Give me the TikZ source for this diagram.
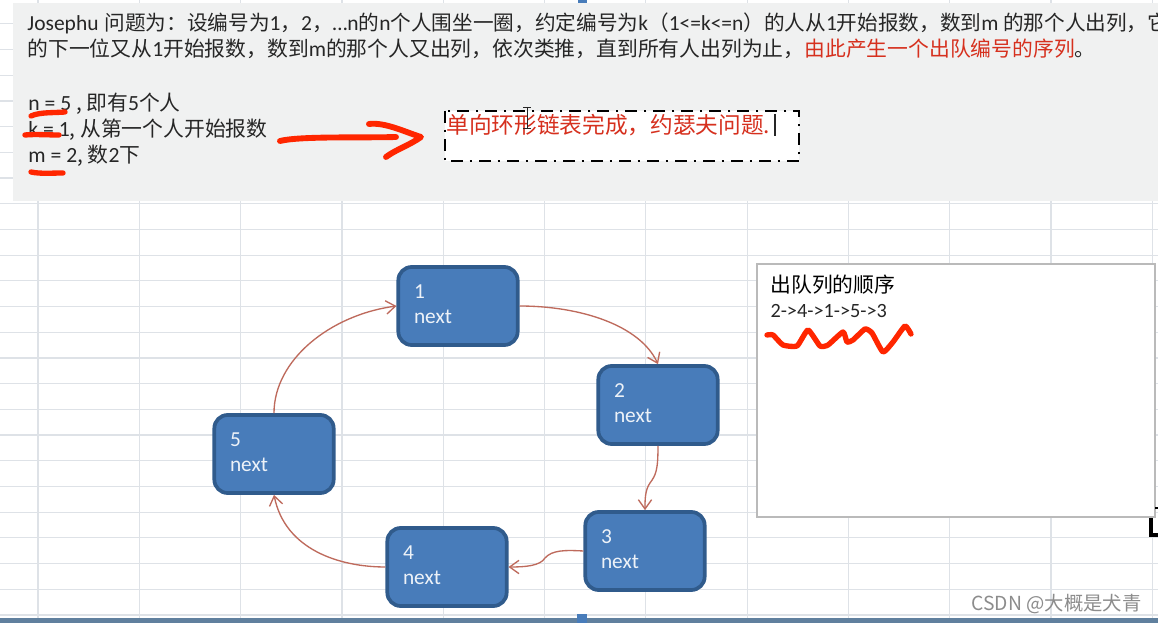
\documentclass[tikz,border=0pt]{standalone}
\usepackage{fontspec}
\setmainfont{Noto Sans CJK SC}
\newfontfamily\latfont[Scale=1.04]{Carlito}
\newcommand{\lat}[1]{{\latfont #1}}
\usetikzlibrary{arrows.meta}

\definecolor{gridcol}{RGB}{222,226,231}
\definecolor{panelcol}{RGB}{240,241,241}
\definecolor{boxfill}{RGB}{72,124,186}
\definecolor{boxedge}{RGB}{48,91,140}
\definecolor{barcol}{RGB}{96,128,158}
\definecolor{linkcol}{RGB}{190,106,92}
\definecolor{inkred}{RGB}{255,38,0}
\definecolor{textred}{RGB}{214,48,30}
\definecolor{textcol}{RGB}{38,38,38}

\tikzset{
	every picture/.style={line width=0.75pt},
	listbox/.style={draw=boxedge,fill=boxfill,line width=2.8pt,rounded corners=10pt,minimum width=89.5pt,minimum height=58.5pt,inner sep=0pt,text=white!90!boxfill,text width=66pt,align=left,font=\fontsize{15.4}{18.6}\latfont,execute at end node={\vspace{3pt}}},
	listlink/.style={draw=linkcol,line width=1pt,-{Straight Barb[length=7pt,width=10pt]}},
	inkstroke/.style={draw=inkred,line width=4pt,line cap=round,line join=round},
	toptext/.style={anchor=base west,inner sep=0pt,text=textcol,font=\fontsize{15.6}{18}\selectfont},
}

\begin{document}
\begin{tikzpicture}[x=0.75pt,y=0.75pt,yscale=-1,xscale=1]
	\useasboundingbox (0,0) rectangle (1158,623);
	\clip (0,0) rectangle (1158,623);

	%sheet grid
	\fill [white] (0,0) rectangle (1158,623);
	\foreach \gx in {0,...,11} {
		\draw [gridcol,line width=0.9pt] ({38+101.3*\gx},0) -- ({38+101.3*\gx},623);
	}
	\foreach \gy in {0,...,23} {
		\draw [gridcol,line width=0.9pt] (0,{615-25.7*\gy}) -- (1158,{615-25.7*\gy});
	}

	%grey panel
	\fill [panelcol] (13,3) rectangle (1158,201);
	\fill [boxfill] (578,0) rectangle (587,3);

	%bottom bar
	\fill [barcol] (0,618) rectangle (1158,623);
	\fill [boxfill] (577,614) rectangle (587,623);

	%problem text
	\node [toptext,font=\fontsize{15.48}{18}\selectfont] (line1) at (27,31) {\lat{Josephu}\hspace{1pt} 问题为：设编号为\lat{1}，\lat{2}，\lat{…n}的\lat{n}个人围坐一圈，约定编号为\lat{k}（\lat{1<=k<=n}）的人从\lat{1}开始报数，数到\lat{m} 的那个人出列，它};
	\node [toptext] (line2) at (27,57) {的下一位又从\lat{1}开始报数，数到\lat{m}的那个人又出列，依次类推，直到所有人出列为止，\textcolor{textred}{由此产生一个出队编号的序列}。};
	\node [toptext] (nline) at (28,111) {\lat{n = 5} , 即有\lat{5}个人};
	\node [toptext] (kline) at (28,137) {\lat{k = 1}, 从第一个人开始报数};
	\node [toptext] (mline) at (28,163) {\lat{m = 2}, 数\lat{2}下};

	%dashed answer box
	\draw [fill=white,line width=0.8pt,dash pattern=on 9pt off 5pt on 2pt off 5pt] (445,111) rectangle (799,161);
	\node [toptext,text=textred,font=\fontsize{17}{20}\selectfont] (answer) at (446,134) {单向环形链表完成，约瑟夫问题.};
	\draw [textcol,line width=0.8pt] (775,114) -- (775,136);
	\draw [textcol,line width=0.7pt] (527,107) -- (527,128) (523,107) -- (531,107) (523,128) -- (531,128);

	%red pen strokes
	\draw [inkstroke] (31,116) .. controls (40,112) and (52,113) .. (65,112);
	\draw [inkstroke] (25,135) .. controls (35,134) and (48,135) .. (59,135);
	\draw [inkstroke] (31,172) .. controls (40,174) and (52,173) .. (63,173);
	\draw [inkstroke,line width=4.4pt] (280,141) .. controls (300,136) and (360,138) .. (396,137);
	\draw [inkstroke,line width=4.4pt] (369,124) .. controls (385,122) and (405,132) .. (421,137) .. controls (410,145) and (395,150) .. (386,157);

	%list nodes
	\node [listbox] (n1) at (458,306) {1\\next};
	\node [listbox] (n2) at (658,405) {2\\next};
	\node [listbox] (n3) at (645,551) {3\\next};
	\node [listbox] (n4) at (447,567) {4\\next};
	\node [listbox] (n5) at (274,454) {5\\next};

	%list links
	\draw [listlink] (n1.east) .. controls (580,306) and (640,325) .. (n2.north);
	\draw [listlink] (n2.south) .. controls (658,470) and (656,475) .. (650,483) .. controls (645,490) and (645,500) .. (n3.north);
	\draw [listlink] (n3.west) .. controls (565,550) and (552,550) .. (545,558) .. controls (540,566) and (525,567) .. (n4.east);
	\draw [listlink] (n4.west) .. controls (340,567) and (285,550) .. (n5.south);
	\draw [listlink] (n5.north) .. controls (274,360) and (330,315) .. (n1.west);

	%order box
	\draw [draw=black!27,fill=white,line width=0.9pt] (757,264) rectangle (1155,517);
	\node [toptext,text=black] (ordertitle) at (770,293) {出队列的顺序};
	\node [toptext,font=\fontsize{14.6}{16}\latfont] (orderseq) at (770,318) {2->4->1->5->3};
	\draw [inkstroke] plot [smooth,tension=0.3] coordinates {(767,335) (773,335) (783,345) (797,346) (808,330) (820,346) (828,345) (843,332) (847,342) (853,340) (865,329) (872,333) (883,352) (893,342) (905,326) (911,334)};

	%corner mark
	\draw [black,line width=2.6pt] (1158,535) -- (1151,535) -- (1151,518);
	\draw [black,line width=2pt] (1155,508) -- (1158,508);

	%watermark
	\node [anchor=base west,inner sep=0pt,text=black!45,font=\fontsize{14.5}{16}\selectfont] (mark) at (971,611) {CSDN @大概是犬青};
\end{tikzpicture}
\end{document}
